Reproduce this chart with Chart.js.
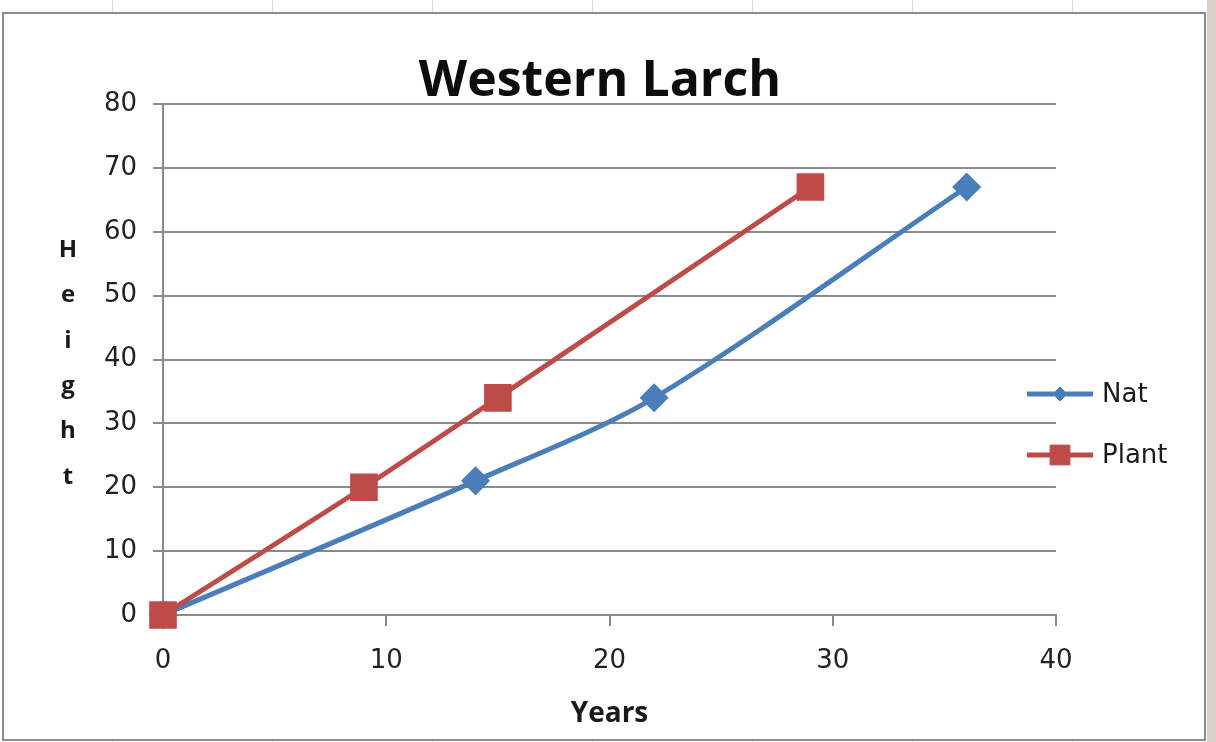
<!DOCTYPE html>
<html>
<head>
<meta charset="utf-8">
<script src="https://cdn.jsdelivr.net/npm/chart.js@4.4.0/dist/chart.umd.min.js"></script>
<style>
  html, body { margin: 0; padding: 0; }
  body {
    width: 1216px; height: 742px; position: relative; overflow: hidden;
    background-color: #fff;
    background-image: repeating-linear-gradient(to right, transparent 0, transparent 112px, #d9d9d9 112px, #d9d9d9 113px, transparent 113px, transparent 160px);
  }
  #strip { position: absolute; left: 1207px; top: 0; width: 9px; height: 742px; background: #d6d3ce; }
  #box {
    position: absolute; left: 2px; top: 12px; width: 1204px; height: 729px;
    border: 2px solid #8c8c8c; box-sizing: border-box; background: #fff;
  }
  #box canvas { position: absolute; left: 0; top: 0; }
</style>
</head>
<body>
<div id="strip"></div>
<div id="box"><canvas id="myLineChart01" width="1200" height="725"></canvas></div>
<script>
/*  data
-------------------------------------------------------*/
var natYears = [0, 14, 22, 36];
var natHeight = [0, 21, 34, 67];
var plantYears = [0, 9, 15, 29];
var plantHeight = [0, 20, 34, 67];
var seriesNames = ['Nat', 'Plant'];
var chartTitle = 'Western Larch';
var yTitleLetters = ['H', 'e', 'i', 'g', 'h', 't'];

function toPoints(xs, ys) {
  return xs.map(function (x, i) { return { x: x, y: ys[i] }; });
}

var gridColor = '#8a8a8a';

/*  title, y title (stacked letters), legend with line and marker
-------------------------------------------------------*/
var extras = {
  id: 'extras',
  afterDraw: function (chart) {
    var ctx = chart.ctx;
    var area = chart.chartArea;
    ctx.save();
    // title, centred on the whole box
    ctx.fillStyle = '#0d0d0d';
    ctx.font = 'bold 50px "Open Sans"';
    ctx.textAlign = 'center';
    ctx.textBaseline = 'alphabetic';
    ctx.fillText(chartTitle, chart.width / 2 - 4, 82);
    // stacked "Height"
    ctx.fillStyle = '#1a1a1a';
    ctx.font = 'bold 24px "Open Sans"';
    ctx.textBaseline = 'middle';
    var mid = (area.top + area.bottom) / 2 + 4;
    var step = 45.4;
    yTitleLetters.forEach(function (ch, i) {
      ctx.fillText(ch, 64, mid + (i - (yTitleLetters.length - 1) / 2) * step);
    });
    // legend
    var legendY = [380, 441];
    chart.data.datasets.forEach(function (ds, i) {
      var y = legendY[i];
      ctx.strokeStyle = ds.borderColor;
      ctx.lineWidth = 5;
      ctx.beginPath();
      ctx.moveTo(area.right - 29, y);
      ctx.lineTo(area.right + 37, y);
      ctx.stroke();
      ctx.fillStyle = ds.pointBackgroundColor;
      ctx.strokeStyle = ds.pointBorderColor;
      ctx.lineWidth = 1;
      Chart.helpers.drawPoint(ctx, { pointStyle: ds.pointStyle, radius: ds.legendRadius, rotation: 0, borderWidth: 1 }, area.right + 4, y);
      ctx.fillStyle = '#1a1a1a';
      ctx.font = '26px "DejaVu Sans"';
      ctx.textAlign = 'left';
      ctx.fillText(ds.label, area.right + 46, y + 1);
    });
    ctx.restore();
  }
};

/*  chart
-------------------------------------------------------*/
var ctx = document.getElementById('myLineChart01');
var myLineChart = new Chart(ctx, {
  type: 'scatter',
  data: {
    datasets: [{
        label: seriesNames[0],
        data: toPoints(natYears, natHeight),
        showLine: true,
        order: 2,
        borderColor: '#4A7EBB',
        backgroundColor: '#4A7EBB',
        pointBackgroundColor: '#4A7EBB',
        pointBorderColor: '#4A7EBB',
        borderWidth: 5,
        tension: 0.3,
        pointStyle: 'rectRot',
        pointRadius: 11,
        pointHoverRadius: 11,
        legendRadius: 7,
        clip: false
      }, {
        label: seriesNames[1],
        data: toPoints(plantYears, plantHeight),
        showLine: true,
        order: 1,
        borderColor: '#BE4B48',
        backgroundColor: '#BE4B48',
        pointBackgroundColor: '#BE4B48',
        pointBorderColor: '#BE4B48',
        borderWidth: 5,
        tension: 0.3,
        pointStyle: 'rect',
        pointRadius: 16,
        pointHoverRadius: 16,
        legendRadius: 14,
        clip: false
      }
    ]
  },
  plugins: [extras],
  options: {
    responsive: false,
    animation: false,
    layout: { padding: { left: 0, right: 148, top: 90, bottom: 0 } },
    plugins: {
      legend: { display: false },
      tooltip: { enabled: false },
      title: { display: false }
    },
    scales: {
      x: {
        type: 'linear',
        min: 0,
        max: 40,
        ticks: { stepSize: 10, color: '#222', padding: 20, font: { family: 'DejaVu Sans', size: 26 } },
        grid: { drawOnChartArea: false, color: gridColor, lineWidth: 2, tickLength: 11 },
        border: { color: gridColor, width: 2 },
        title: {
          display: true,
          text: 'Years',
          color: '#1a1a1a',
          font: { family: 'Open Sans', weight: 'bold', size: 28 },
          padding: { top: 0, bottom: 8 }
        },
        afterFit: function (scale) { scale.height = 124; }
      },
      y: {
        min: 0,
        max: 80,
        ticks: { stepSize: 10, color: '#222', padding: 16, font: { family: 'DejaVu Sans', size: 26 } },
        grid: { color: gridColor, lineWidth: 2, tickLength: 10 },
        border: { color: gridColor, width: 2 },
        afterFit: function (scale) { scale.width = 159; }
      }
    }
  }
});
</script>
</body>
</html>
